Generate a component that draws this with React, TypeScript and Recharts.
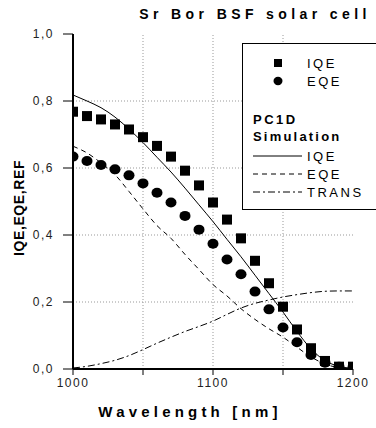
import React from 'react';
import {
  ComposedChart,
  Line,
  Scatter,
  XAxis,
  YAxis,
  ReferenceLine,
  Legend,
  Customized,
} from 'recharts';

const wavelengths = [1000, 1010, 1020, 1030, 1040, 1050, 1060, 1070, 1080, 1090, 1100, 1110, 1120, 1130, 1140, 1150, 1160, 1170, 1180, 1190, 1200];
const iqeMeasured = [0.768, 0.755, 0.745, 0.73, 0.715, 0.692, 0.666, 0.634, 0.592, 0.548, 0.497, 0.446, 0.39, 0.323, 0.256, 0.186, 0.118, 0.062, 0.024, 0.007, 0.007];
const eqeMeasured = [0.634, 0.621, 0.609, 0.596, 0.578, 0.554, 0.526, 0.497, 0.457, 0.416, 0.374, 0.327, 0.283, 0.231, 0.178, 0.124, 0.08, 0.042, 0.019, 0.007, 0.005];
const iqeSimulated = [0.818, 0.8, 0.78, 0.752, 0.716, 0.676, 0.632, 0.588, 0.54, 0.49, 0.44, 0.387, 0.335, 0.28, 0.225, 0.17, 0.112, 0.06, 0.025, 0.008, 0.002];
const eqeSimulated = [0.665, 0.645, 0.615, 0.58, 0.53, 0.478, 0.428, 0.39, 0.342, 0.297, 0.252, 0.218, 0.18, 0.148, 0.12, 0.095, 0.065, 0.036, 0.015, 0.004, 0.001];
const transSimulated = [0.003, 0.008, 0.016, 0.026, 0.04, 0.058, 0.077, 0.095, 0.112, 0.127, 0.143, 0.163, 0.182, 0.196, 0.206, 0.215, 0.222, 0.228, 0.232, 0.233, 0.233];

const xTicks = [1000, 1050, 1100, 1150, 1200];
const xLabelTicks = [1000, 1100, 1200];
const xGrid = [1050, 1100, 1150];
const yMajorTicks = [0, 0.2, 0.4, 0.6, 0.8, 1.0];
const yMinorTicks = [0.1, 0.3, 0.5, 0.7, 0.9];
const yRightTicks = [0.1, 0.2, 0.3, 0.4, 0.5, 0.6, 0.7, 0.8, 0.9];
const yGrid = [0.2, 0.4, 0.6, 0.8];

const title = 'Sr Bor BSF solar cell';
const xTitle = 'Wavelength [nm]';
const yTitle = 'IQE,EQE,REF';

const rows = wavelengths.map((wl, i) => ({
  wl,
  iqe: iqeMeasured[i],
  eqe: eqeMeasured[i],
  iqeSim: iqeSimulated[i],
  eqeSim: eqeSimulated[i],
  trans: transSimulated[i],
}));

const FONT = '"Liberation Sans", Arial, Helvetica, sans-serif';

const fmtY = (v: number) => v.toFixed(1).replace('.', ',');
const fmtX = (v: number) => (xLabelTicks.includes(v) ? String(v) : '');
const blank = () => '';

const SquareShape = (props: any) => {
  const { cx, cy } = props;
  if (cx == null || cy == null) return null;
  return <rect x={cx - 5} y={cy - 5} width={10} height={10} fill="#000" />;
};

const CircleShape = (props: any) => {
  const { cx, cy } = props;
  if (cx == null || cy == null) return null;
  return <ellipse cx={cx} cy={cy} rx={5.5} ry={5} fill="#000" />;
};

const renderLegend = () => (
  <svg width={140} height={168} style={{ display: 'block' }}>
    <rect x={0.5} y={0.5} width={150} height={166} fill="#fff" stroke="#000" strokeWidth={1} />
    <rect x={32} y={16} width={8} height={8} fill="#000" />
    <text x={65} y={24.5} fontSize={13} fontFamily={FONT} letterSpacing={2.5} fill="#000">IQE</text>
    <ellipse cx={36} cy={38} rx={4.5} ry={4.2} fill="#000" />
    <text x={65} y={42.5} fontSize={13} fontFamily={FONT} letterSpacing={2.5} fill="#000">EQE</text>
    <text x={11} y={80.5} fontSize={13} fontWeight="bold" fontFamily={FONT} letterSpacing={2.5} fill="#000">PC1D</text>
    <text x={11} y={97.5} fontSize={13} fontWeight="bold" fontFamily={FONT} letterSpacing={2.2} fill="#000">Simulation</text>
    <line x1={11} x2={60} y1={113} y2={113} stroke="#000" strokeWidth={1} />
    <text x={65} y={117.5} fontSize={13} fontFamily={FONT} letterSpacing={2.5} fill="#000">IQE</text>
    <line x1={11} x2={60} y1={131} y2={131} stroke="#000" strokeWidth={1} strokeDasharray="5 4" />
    <text x={65} y={135.5} fontSize={13} fontFamily={FONT} letterSpacing={2.5} fill="#000">EQE</text>
    <line x1={11} x2={60} y1={149} y2={149} stroke="#000" strokeWidth={1} strokeDasharray="7 3 2 3" />
    <text x={65} y={153.5} fontSize={13} fontFamily={FONT} letterSpacing={2.5} fill="#000">TRANS</text>
  </svg>
);

const Titles = () => (
  <g>
    <text x={255} y={18.5} textAnchor="middle" fontSize={14} fontWeight="bold" fontFamily={FONT} letterSpacing={4.4} fill="#000">
      {title}
    </text>
    <text x={190} y={417} textAnchor="middle" fontSize={15} fontWeight="bold" fontFamily={FONT} letterSpacing={4.2} fill="#000">
      {xTitle}
    </text>
    <text
      x={0}
      y={0}
      transform="translate(24,208) rotate(-90)"
      textAnchor="middle"
      fontSize={14}
      fontWeight="bold"
      fontFamily={FONT}
      letterSpacing={0.6}
      fill="#000"
    >
      {yTitle}
    </text>
  </g>
);

const tickStyle = { fontSize: 12, fill: '#222', fontFamily: FONT, letterSpacing: 1.5 };
const grid = { stroke: '#999', strokeDasharray: '1 2', strokeWidth: 1 };

export default function App() {
  return (
    <div style={{ position: 'fixed', left: 0, top: 0, width: 376, height: 428, overflow: 'hidden', background: '#fff' }}>
      <ComposedChart width={376} height={428} data={rows} margin={{ top: 34, right: 23, bottom: 29, left: 28 }}>
        <XAxis
          dataKey="wl"
          type="number"
          domain={[1000, 1200]}
          ticks={xTicks}
          height={30}
          tickSize={6}
          tickMargin={3}
          axisLine={{ stroke: '#000', strokeWidth: 2 }}
          tickLine={{ stroke: '#000', strokeWidth: 1 }}
          tick={tickStyle}
          tickFormatter={fmtX}
          interval={0}
          allowDataOverflow
        />
        <XAxis
          xAxisId="top"
          dataKey="wl"
          type="number"
          orientation="top"
          domain={[1000, 1200]}
          ticks={xGrid}
          height={0}
          mirror
          tickSize={4}
          tickFormatter={blank}
          interval={0}
          axisLine={{ stroke: '#000', strokeWidth: 1.5 }}
          tickLine={{ stroke: '#000', strokeWidth: 1 }}
        />
        <YAxis
          type="number"
          domain={[0, 1]}
          ticks={yMajorTicks}
          width={45}
          tickSize={10}
          tickMargin={9}
          interval={0}
          axisLine={{ stroke: '#000', strokeWidth: 2 }}
          tickLine={{ stroke: '#000', strokeWidth: 1 }}
          tick={tickStyle}
          tickFormatter={fmtY}
          allowDataOverflow
        />
        <YAxis
          yAxisId="minor"
          type="number"
          domain={[0, 1]}
          ticks={yMinorTicks}
          width={0}
          tickSize={5}
          interval={0}
          axisLine={false}
          tickLine={{ stroke: '#000', strokeWidth: 1 }}
          tickFormatter={blank}
        />
        <YAxis
          yAxisId="right"
          orientation="right"
          type="number"
          domain={[0, 1]}
          ticks={yRightTicks}
          width={0}
          mirror
          tickSize={5}
          interval={0}
          tickFormatter={blank}
          axisLine={{ stroke: '#000', strokeWidth: 1.5 }}
          tickLine={{ stroke: '#000', strokeWidth: 1 }}
        />
        {yGrid.map((v) => (
          <ReferenceLine key={'gy' + v} y={v} {...grid} />
        ))}
        {xGrid.map((v) => (
          <ReferenceLine key={'gx' + v} x={v} {...grid} />
        ))}
        <Line dataKey="iqeSim" type="monotone" stroke="#000" strokeWidth={1} dot={false} isAnimationActive={false} />
        <Line dataKey="eqeSim" type="monotone" stroke="#000" strokeWidth={1} strokeDasharray="5 4" dot={false} isAnimationActive={false} />
        <Line dataKey="trans" type="monotone" stroke="#000" strokeWidth={1} strokeDasharray="7 3 2 3" dot={false} isAnimationActive={false} />
        <Scatter dataKey="iqe" shape={<SquareShape />} fill="#000" isAnimationActive={false} />
        <Scatter dataKey="eqe" shape={<CircleShape />} fill="#000" isAnimationActive={false} />
        <Legend
          layout="vertical"
          align="center"
          verticalAlign="middle"
          content={renderLegend}
          wrapperStyle={{ position: 'absolute', left: 242, top: 43, width: 140, height: 168 }}
        />
        <Customized component={Titles} />
      </ComposedChart>
    </div>
  );
}
